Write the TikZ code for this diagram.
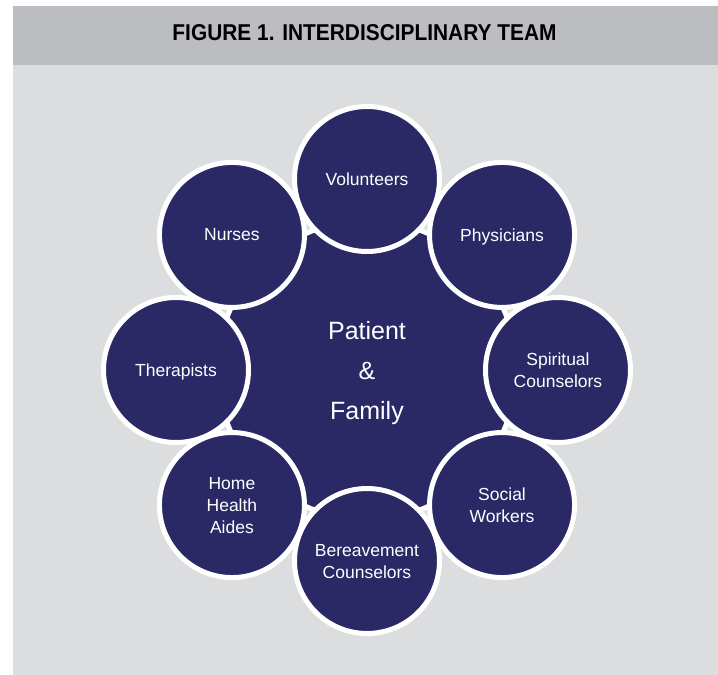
\documentclass[tikz,border=0pt]{standalone}
\usepackage{fontspec}
\setmainfont{Liberation Sans}
\usepackage{graphicx}
\definecolor{navy}{HTML}{2A2966}
\definecolor{headgrey}{HTML}{BCBDC0}
\definecolor{bodygrey}{HTML}{DCDDDF}
\tikzset{
  member/.style={circle, fill=navy, draw=white, line width=5pt, minimum size=145pt,
    inner sep=0pt, text=white, align=center, text depth=0pt,
    font=\fontsize{17.5}{22}\selectfont},
  hub/.style={circle, fill=navy, draw=white, line width=5pt, minimum size=299pt,
    inner sep=0pt, text=white, align=center, text depth=0pt,
    font=\fontsize{25}{40}\selectfont},
}
\begin{document}
\begin{tikzpicture}[x=1pt,y=1pt]
\useasboundingbox (0,0) rectangle (718,675);
\fill[white] (0,0) rectangle (718,675);
\fill[headgrey] (13,610) rectangle (718,669);
\fill[bodygrey] (13,0) rectangle (718,610);
\node[inner sep=0pt, text depth=0pt] (title) at (364.5,642)
  {\resizebox{384pt}{16pt}{\bfseries FIGURE 1. INTERDISCIPLINARY TEAM}};
\coordinate (c) at (367,305);
\node[hub] (pf) at (c) {Patient\\\&\\Family};
\node[member] (vol) at ([shift={(90:191)}]c) {Volunteers};
\node[member] (phy) at ([shift={(45:191)}]c) {Physicians};
\node[member] (spi) at ([shift={(0:191)}]c) {Spiritual\\Counselors};
\node[member] (soc) at ([shift={(-45:191)}]c) {Social\\Workers};
\node[member] (ber) at ([shift={(-90:191)}]c) {Bereavement\\Counselors};
\node[member] (hom) at ([shift={(-135:191)}]c) {Home\\Health\\Aides};
\node[member] (the) at ([shift={(180:191)}]c) {Therapists};
\node[member] (nur) at ([shift={(135:191)}]c) {Nurses};
\end{tikzpicture}
\end{document}
